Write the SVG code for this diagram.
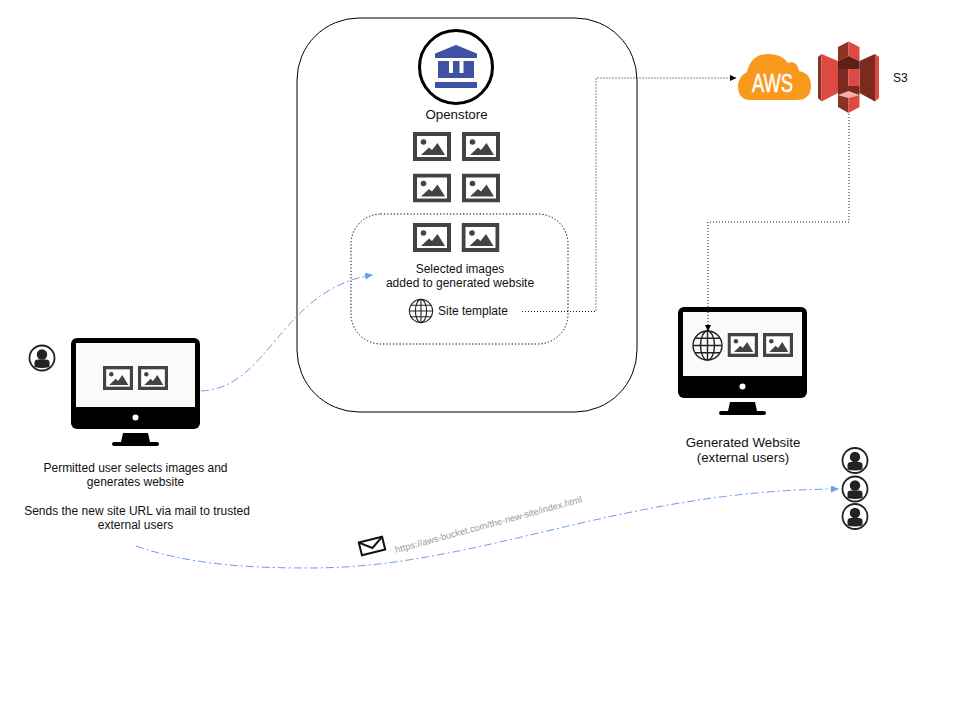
<svg xmlns="http://www.w3.org/2000/svg" width="960" height="720" viewBox="0 0 960 720">
<style>
text{font-family:"Liberation Sans",Arial,sans-serif;fill:#111}
.t12{font-size:12px;text-anchor:middle}
.t13{font-size:13.330px;text-anchor:middle}
.blue{fill:none;stroke:#6d9eeb;stroke-width:1;stroke-dasharray:8 3 2 3}
.dots{fill:none;stroke:#000;stroke-width:.9;stroke-dasharray:1 2}
</style>
<defs>
<marker id="ab" markerWidth="8" markerHeight="8" refX="7" refY="3.5" orient="auto" markerUnits="userSpaceOnUse"><path d="M0 0L8 3.500L0 7z" fill="#6d9eeb"/></marker>
<marker id="ak" markerWidth="7" markerHeight="7" refX="6" refY="3" orient="auto" markerUnits="userSpaceOnUse"><path d="M0 0L6.500 3L0 6z" fill="#000"/></marker>
<symbol id="img" viewBox="0 0 38 29" preserveAspectRatio="none">
<rect x="2" y="2" width="34" height="25" fill="#fff" stroke="#434343" stroke-width="4"/>
<circle cx="10.500" cy="10" r="2.800" fill="#434343"/>
<path d="M8 23L16 15.500L19 18L24.500 11L32 23z" fill="#434343"/>
</symbol>
<g id="monitor">
<rect x="0" y="0" width="129" height="91" rx="6" fill="#000"/>
<rect x="5" y="5" width="119" height="64" fill="#fbfaf8"/>
<circle cx="64.500" cy="79.500" r="3" fill="#fff"/>
<path d="M52 95H77L79 104H86Q88 104 88 106Q88 108 86 108H43Q41 108 41 106Q41 104 43 104H50z" fill="#000"/>
</g>
<g id="person">
<circle cx="0" cy="0" r="12.500" fill="#fff" stroke="#222" stroke-width="1.800"/>
<circle cx="0" cy="-3.500" r="5.200" fill="#222"/>
<path d="M-7.500 9V4.500Q-7.500 1.500-4 1.500H4Q7.500 1.500 7.500 4.500V9Q0 11-7.500 9z" fill="#222"/>
</g>
<g id="globe" fill="none" stroke="#222" stroke-width="1.400">
<circle r="14.500"/><ellipse rx="7" ry="14.500"/><path d="M0-14.500V14.500M-14.500 0H14.500M-12.500-7.200H12.500M-12.500 7.200H12.500"/>
</g>
</defs>

<g id="openstore-container"><rect x="297" y="18" width="340" height="394" rx="62" fill="none" stroke="#000" stroke-width="1"/></g>
<g id="selected-box"><rect x="351" y="214" width="217" height="130" rx="30" fill="none" stroke="#000" stroke-width="1" stroke-dasharray=".5 2.800" stroke-linecap="round"/></g>

<g id="openstore">
<circle cx="456" cy="67" r="36.500" fill="#fff" stroke="#000" stroke-width="3"/>
<path d="M456 45L477 53.500V58H435V53.500z" fill="#3f51a5"/>
<path d="M438 61H474V78H438zM449 61V73H453V61zM459.500 61V73H463.500V61z" fill="#3f51a5" fill-rule="evenodd"/>
<rect x="435" y="82" width="42" height="6" fill="#3f51a5"/>
<text class="t13" x="456.500" y="118.500">Openstore</text>
</g>

<g id="images-grid">
<use href="#img" x="413" y="132" width="38" height="29"/>
<use href="#img" x="462" y="132" width="38" height="29"/>
<use href="#img" x="413" y="173.500" width="38" height="29"/>
<use href="#img" x="462" y="173.500" width="38" height="29"/>
</g>

<g id="selected-images">
<use href="#img" x="413" y="223" width="38" height="29"/>
<use href="#img" x="461.500" y="223" width="38" height="29"/>
<text class="t12" x="460" y="273">Selected images</text>
<text class="t12" x="460" y="287">added to generated website</text>
</g>

<g id="site-template">
<use href="#globe" transform="translate(421 311) scale(.8)"/>
<text x="438" y="315" font-size="12">Site template</text>
</g>

<g id="aws">
<path d="M751 100H796Q811 100 811 86Q811 73 799 71Q797 60 788 63Q782 54 768 54Q751 54 747 72Q738 77 738 86Q738 100 751 100z" fill="#f8991d"/>
<text x="752" y="92" font-size="26" style="fill:#fff;stroke:#fff;stroke-width:.5" textLength="41" lengthAdjust="spacingAndGlyphs">AWS</text>
</g>

<g id="s3">
<path d="M818 57L821.500 54V101.500L818 98z" fill="#8c3123"/>
<path d="M821.500 54L838 61V93L821.500 101.500z" fill="#dd4a42"/>
<path d="M875 54L859.500 61V93L875 101.500z" fill="#7b2a20"/>
<path d="M875 54L879 57V98L875 101.500z" fill="#dd4a42"/>
<path d="M838 47L848.500 41.500V56L838 61z" fill="#8c3123"/>
<path d="M848.500 41.500L859.500 47V61L848.500 56z" fill="#dd4a42"/>
<path d="M838 61L848.500 56L859.500 61V69H838z" fill="#5e1f18"/>
<path d="M838 69H848.500V86H838z" fill="#7b2a20"/>
<path d="M848.500 69H859.500V86H848.500z" fill="#dd4a42"/>
<path d="M838 86H859.500V95H838z" fill="#7b2a20"/>
<path d="M838 95L848.500 91L859.500 95L848.500 98z" fill="#f2b0a9"/>
<path d="M838 95L848.500 98V113L838 107z" fill="#8c3123"/>
<path d="M859.500 95L848.500 98V113L859.500 107z" fill="#dd4a42"/>
<text x="893" y="81.500" font-size="12">S3</text>
</g>

<g id="user-monitor">
<use href="#monitor" transform="translate(71 338)"/>
<use href="#img" x="103" y="366" width="30" height="24"/>
<use href="#img" x="138" y="366" width="30" height="24"/>
</g>
<g id="user"><use href="#person" transform="translate(42 358)"/></g>
<g id="user-label">
<text class="t12" x="135.500" y="471.500">Permitted user selects images and</text>
<text class="t12" x="135.500" y="485.500">generates website</text>
<text class="t12" x="137" y="514.500">Sends the new site URL via mail to trusted</text>
<text class="t12" x="135.500" y="528.500">external users</text>
</g>

<g id="generated-website">
<use href="#monitor" transform="translate(678 307)"/>
<use href="#globe" transform="translate(707.500 345.500)"/>
<use href="#img" x="727.500" y="333" width="30.500" height="24"/>
<use href="#img" x="763" y="333" width="30" height="24"/>
<text class="t13" x="743" y="447">Generated Website</text>
<text class="t13" x="743" y="462">(external users)</text>
</g>

<g id="external-users">
<use href="#person" transform="translate(855 460.500)"/>
<use href="#person" transform="translate(855 489)"/>
<use href="#person" transform="translate(855 516.500)"/>
</g>

<g id="mail">
<g transform="translate(372 546) rotate(-14)" fill="none" stroke="#111" stroke-width="2"><rect x="-12" y="-6.500" width="24" height="13"/><path d="M-12-6.500L0 2L12-6.500"/></g>
</g>
<text x="396" y="553" font-size="9.300" style="fill:#999" transform="rotate(-15.250 396 553)">https://aws-bucket.com/the-new-site/index.html</text>

<g id="connectors">
<path class="blue" d="M201 391C270 388 280 290 372 275" marker-end="url(#ab)"/>
<path class="blue" d="M136 546C190 565 250 568 310 568C480 568 620 490 838 489" marker-end="url(#ab)"/>
<path class="dots" d="M522 311.500H596V78H736" marker-end="url(#ak)"/>
<path class="dots" d="M849 114V222H708V331" marker-end="url(#ak)"/>
</g>
</svg>
